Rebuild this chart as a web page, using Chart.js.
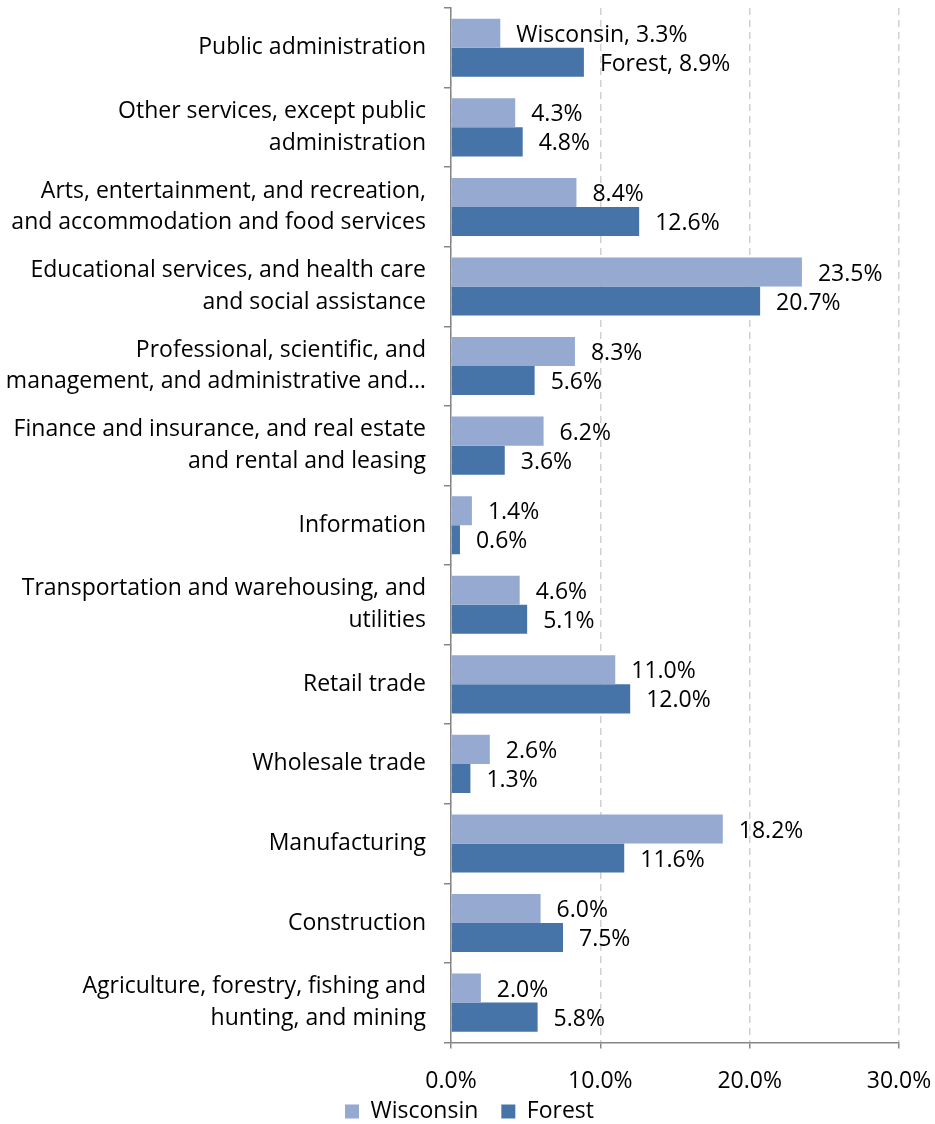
<!DOCTYPE html>
<html>
<head>
<meta charset="utf-8">
<script src="https://cdn.jsdelivr.net/npm/chart.js@4"></script>
<style>
  body { margin: 0; background: #fff; }
  #wrap { width: 935px; height: 1124px; }
</style>
</head>
<body>
<div id="wrap"><canvas id="chart"></canvas></div>
<script>
// industry categories, top to bottom
const categories = [
  ['Public administration'],
  ['Other services, except public', 'administration'],
  ['Arts, entertainment, and recreation,', 'and accommodation and food services'],
  ['Educational services, and health care', 'and social assistance'],
  ['Professional, scientific, and', 'management, and administrative and\u2026'],
  ['Finance and insurance, and real estate', 'and rental and leasing'],
  ['Information'],
  ['Transportation and warehousing, and', 'utilities'],
  ['Retail trade'],
  ['Wholesale trade'],
  ['Manufacturing'],
  ['Construction'],
  ['Agriculture, forestry, fishing and', 'hunting, and mining']
];
const wisconsin = [3.3, 4.3, 8.4, 23.5, 8.3, 6.2, 1.4, 4.6, 11.0, 2.6, 18.2, 6.0, 2.0];
const forest = [8.9, 4.8, 12.6, 20.7, 5.6, 3.6, 0.6, 5.1, 12.0, 1.3, 11.6, 7.5, 5.8];
const xTicks = [0, 10, 20, 30];

const FONT = "'Open Sans', sans-serif";
const FSIZE = 23;
const axisGray = '#868686';

// draws value labels right of each bar (first row also gets the series name)
const barLabels = {
  id: 'barLabels',
  afterDatasetsDraw(chart) {
    const ctx = chart.ctx;
    ctx.save();
    ctx.font = FSIZE + 'px ' + FONT;
    ctx.fillStyle = '#000';
    ctx.textBaseline = 'middle';
    ctx.textAlign = 'left';
    chart.data.datasets.forEach((ds, di) => {
      chart.getDatasetMeta(di).data.forEach((bar, i) => {
        let txt = ds.data[i].toFixed(1) + '%';
        if (i === 0) txt = ds.label + ', ' + txt;
        ctx.fillText(txt, bar.x + 16, bar.y + 2);
      });
    });
    ctx.restore();
  }
};

// pull the legend up a little, closer to the axis labels
const legendNudge = {
  id: 'legendNudge',
  afterLayout(chart) {
    const lg = chart.legend;
    if (!lg) return;
    lg.top -= 14;
    lg.bottom -= 14;
  }
};

new Chart(document.getElementById('chart'), {
  type: 'bar',
  data: {
    labels: categories,
    datasets: [
      { label: 'Wisconsin', data: wisconsin, backgroundColor: '#95A9D1', borderWidth: 0 },
      { label: 'Forest', data: forest, backgroundColor: '#4674A8', borderWidth: 0 }
    ]
  },
  options: {
    indexAxis: 'y',
    responsive: true,
    maintainAspectRatio: false,
    animation: false,
    datasets: { bar: { categoryPercentage: 0.73, barPercentage: 1.0 } },
    layout: { padding: { top: 8, right: 0, left: 4, bottom: -18 } },
    scales: {
      x: {
        min: 0, max: 30,
        afterBuildTicks: s => { s.ticks = xTicks.map(v => ({ value: v })); },
        afterFit: s => { s.paddingRight = 36; },
        ticks: {
          color: '#000',
          font: { family: FONT, size: FSIZE },
          padding: 19,
          callback: v => v.toFixed(1) + '%'
        },
        grid: { color: '#d0d0d0', lineWidth: 1.5, tickColor: axisGray, tickLength: 6 },
        border: { color: axisGray, width: 1.5, dash: [7, 5] }
      },
      y: {
        afterFit: s => { s.width = 447; s.paddingTop = 0; s.paddingBottom = 0; },
        ticks: {
          color: '#000',
          font: { family: FONT, size: FSIZE, lineHeight: 1.38 },
          padding: 18
        },
        grid: { drawOnChartArea: false, tickColor: axisGray, tickLength: 7, lineWidth: 1.5 },
        border: { color: axisGray, width: 1.5 }
      }
    },
    plugins: {
      legend: {
        position: 'bottom',
        maxHeight: 28,
        labels: {
          color: '#000',
          font: { family: FONT, size: FSIZE },
          boxWidth: 14, boxHeight: 14,
          padding: 0,
          // gap after each entry comes from the trailing spaces
          generateLabels: chart => Chart.defaults.plugins.legend.labels.generateLabels(chart)
            .map((l, i) => Object.assign(l, { text: i === 0 ? l.text + '\u2002\u2002' : l.text }))
        }
      },
      tooltip: { enabled: false }
    }
  },
  plugins: [barLabels, legendNudge]
});
</script>
</body>
</html>
